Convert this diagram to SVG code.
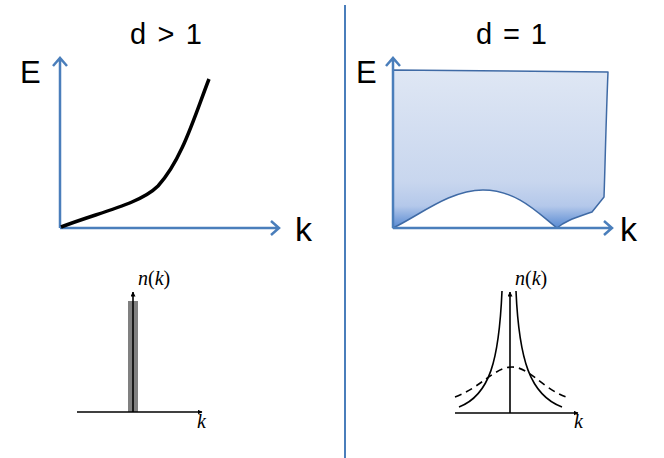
<svg xmlns="http://www.w3.org/2000/svg" width="664" height="458" viewBox="0 0 664 458">
<style>
.ax{stroke:#4a7ebb;stroke-width:2.5;fill:none}
.lbl{font-family:"Liberation Sans",Arial,sans-serif;font-size:31px;fill:#000}
.kl{font-family:"Liberation Sans",Arial,sans-serif;font-size:34px;fill:#000}
.ttl{font-family:"Liberation Sans",Arial,sans-serif;font-size:29px;fill:#000}
.it{font-family:"Liberation Serif","Times New Roman",serif;font-size:20px;fill:#000}
.bk{stroke:#000;stroke-width:1.6;fill:none}
</style>
<defs>
<marker id="bh" viewBox="0 0 10 10" refX="9" refY="5" markerWidth="5" markerHeight="5" orient="auto" markerUnits="userSpaceOnUse">
<path d="M0,0 L10,5 L0,10 Z" fill="#000"/>
</marker>
<linearGradient id="g" x1="0" y1="70" x2="0" y2="230" gradientUnits="userSpaceOnUse">
<stop offset="0" stop-color="#dfe7f4"/>
<stop offset="0.7" stop-color="#c8d6ee"/>
<stop offset="0.85" stop-color="#b4c8ea"/>
<stop offset="1" stop-color="#4f84d0"/>
</linearGradient>
</defs>
<line x1="345" y1="5" x2="345" y2="458" stroke="#4a7ebb" stroke-width="2"/>
<g id="left-top">
<text class="ttl" x="130" y="44" textLength="72" lengthAdjust="spacing">d &gt; 1</text>
<text class="lbl" x="20" y="83">E</text>
<text class="kl" x="295" y="241">k</text>
<path class="ax" d="M60,228 V58 M53,66 L60,58 L67,66"/>
<path class="ax" d="M60,228 H279 M271,221 L279,228 L271,235"/>
<path d="M61,227 C100,212 140,204 158,186 C182,160 195,115 209,79" stroke="#000" stroke-width="3.5" fill="none"/>
</g>
<g id="right-top">
<text class="ttl" x="476" y="44" textLength="71" lengthAdjust="spacing">d = 1</text>
<text class="lbl" x="356" y="83">E</text>
<text class="kl" x="620" y="241">k</text>
<path d="M393,70 L608,72 C606,120 605,170 604,197 L592,212 C578,217 566,220 557,228 C540,215 518,190 483,190 C450,190 420,215 393,228 Z" fill="url(#g)" stroke="#3f6aa5" stroke-width="1.5" stroke-linejoin="round"/>
<path class="ax" d="M393,228 V58 M386,66 L393,58 L400,66"/>
<path class="ax" d="M393,228 H612 M604,221 L612,228 L604,235"/>
</g>
<g id="left-bottom">
<rect x="128" y="301" width="10" height="111" fill="#808080"/>
<line class="bk" x1="77" y1="412" x2="202" y2="412" marker-end="url(#bh)"/>
<line class="bk" x1="133" y1="412" x2="133" y2="292" marker-end="url(#bh)"/>
<text class="it" x="138" y="285"><tspan font-style="italic">n</tspan>(<tspan font-style="italic">k</tspan>)</text>
<text class="it" x="197" y="428" font-style="italic">k</text>
</g>
<g id="right-bottom">
<line class="bk" x1="455" y1="413" x2="578" y2="413" marker-end="url(#bh)"/>
<line class="bk" x1="510" y1="413" x2="510" y2="292" marker-end="url(#bh)"/>
<path class="bk" d="M502,291 C499,360 490,395 459,407"/>
<path class="bk" d="M516,291 C519,360 530,395 562,407"/>
<path class="bk" stroke-dasharray="7,5" d="M455,397 C480,388 495,367 512,367 C529,367 542,388 566,397"/>
<text class="it" x="515" y="285"><tspan font-style="italic">n</tspan>(<tspan font-style="italic">k</tspan>)</text>
<text class="it" x="574" y="428" font-style="italic">k</text>
</g>
</svg>
